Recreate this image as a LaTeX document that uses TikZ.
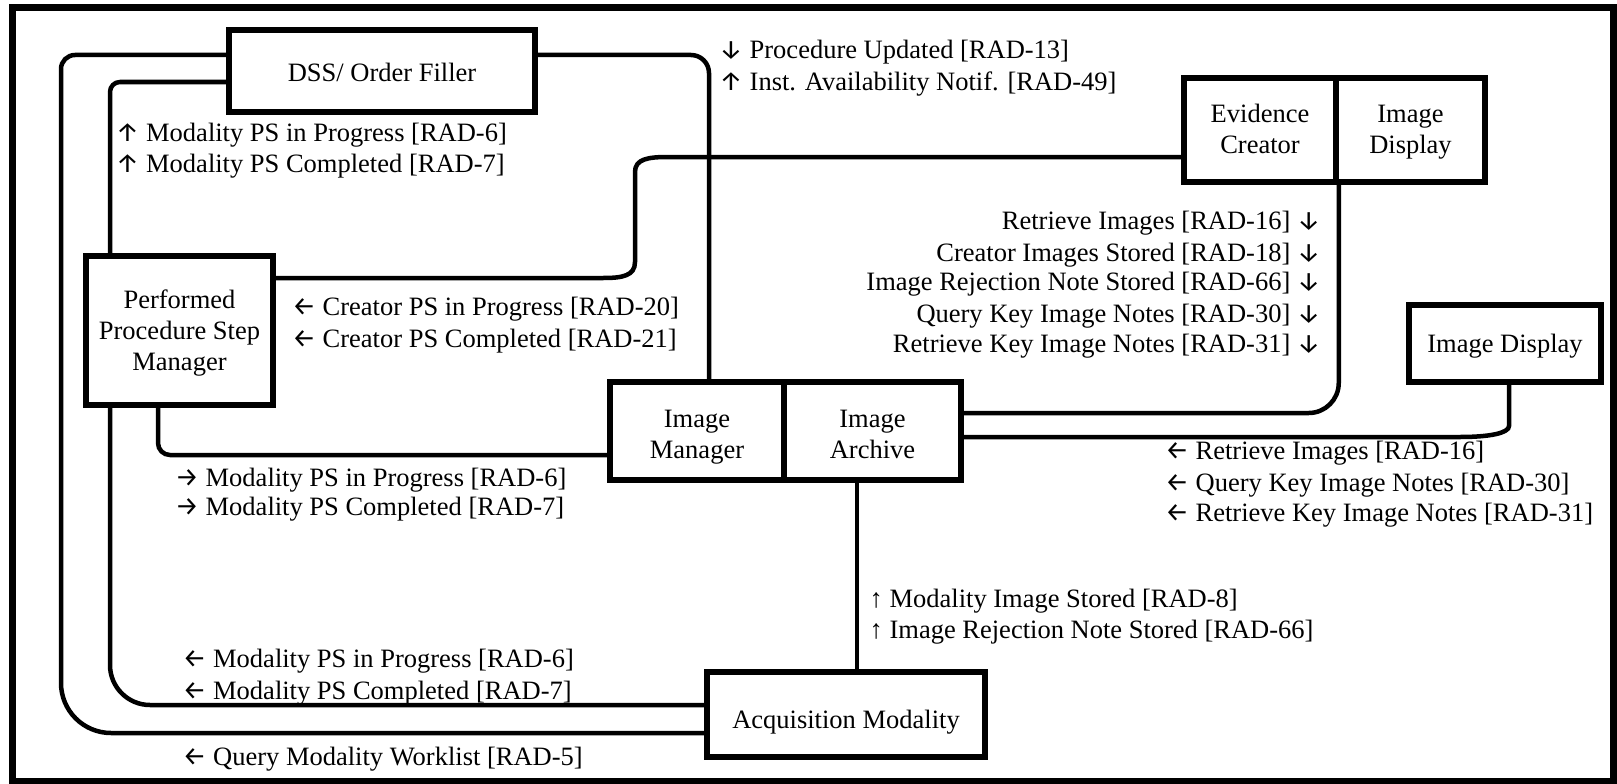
\documentclass[tikz,border=0pt]{standalone}
\usepackage{fontspec}
\setmainfont{Liberation Serif}
\newfontfamily\arrowfont{Fira Sans}
\newcommand\lblfont{\fontsize{26.5}{31}\selectfont}
\newcommand\aU{{\arrowfont ↑}}
\newcommand\aD{{\arrowfont ↓}}
\newcommand\aL{{\arrowfont ←}}
\newcommand\aR{{\arrowfont →}}
\newcommand\bt[2]{\raisebox{-#1}[\height][\depth]{\begin{tabular}{@{}c@{}}#2\end{tabular}}}
\begin{document}
\begin{tikzpicture}[x=1pt,y=-1pt,
  box/.style={draw, line width=5.5pt, inner sep=0pt, align=center, font=\lblfont},
  conn/.style={line width=4.5pt},
  lbl/.style={anchor=base west, inner sep=0pt, font=\lblfont},
  lblr/.style={anchor=base east, inner sep=0pt, font=\lblfont}]
\useasboundingbox (0,0) rectangle (1617,784);
\draw[line width=7pt] (12,8) rectangle (1613,781);
% boxes
\node[box, minimum width=306pt, minimum height=82pt] (DSS) at (382,71) {\bt{4pt}{DSS/ Order Filler}};
\node[box, minimum width=187pt, minimum height=149pt] (PPSM) at (179.5,330.5) {\bt{3pt}{Performed\\Procedure Step\\Manager}};
\node[box, minimum width=174pt, minimum height=98pt] (ImgMgr) at (697,431) {\bt{6pt}{Image\\Manager}};
\node[box, minimum width=177pt, minimum height=98pt] (ImgArch) at (872.5,431) {\bt{6pt}{Image\\Archive}};
\node[box, minimum width=152pt, minimum height=104pt] (EvC) at (1260,130) {\bt{2pt}{Evidence\\Creator}};
\node[box, minimum width=149pt, minimum height=104pt] (ImgD1) at (1410.5,130) {\bt{2pt}{Image\\Display}};
\node[box, minimum width=192pt, minimum height=77pt] (ImgD2) at (1505,343.5) {\bt{3pt}{Image Display}};
\node[box, minimum width=278pt, minimum height=85pt] (AcqMod) at (846,714.5) {\bt{8pt}{Acquisition Modality}};
% connectors
\draw[conn, rounded corners=14pt] ([yshift=16pt]DSS.west) -| (61,400) [rounded corners=50pt] |- ([yshift=-18.5pt]AcqMod.west);
\draw[conn, rounded corners=10pt] ([yshift=-11pt]DSS.west) -| (PPSM.north -| 110,0);
\draw[conn, rounded corners=40pt] (PPSM.south -| 110,0) |- ([yshift=9.5pt]AcqMod.west);
\draw[conn, rounded corners=12pt] (PPSM.south -| 158,0) |- ([yshift=-24pt]ImgMgr.west);
\draw[conn, rounded corners=18pt] ([yshift=16pt]DSS.east) -| (ImgMgr.north -| 709,0);
\draw[conn] ([yshift=52.5pt]PPSM.east) -- (603,278) .. controls (622,278) and (635,276) .. (635,262) -- (635,172) .. controls (635,159) and (648,157) .. (668,157) -- ([yshift=-27pt]EvC.west);
\draw[conn, rounded corners=30pt] (EvC.south east) |- ([yshift=18pt]ImgArch.east);
\draw[conn] ([xshift=4pt]ImgD2.south) -- (1509,426) .. controls (1509,433) and (1490,437) .. (1460,437) -- ([yshift=-6pt]ImgArch.east);
\draw[conn] (ImgArch.south -| 857,0) -- (AcqMod.north -| 857,0);
% labels
\node[lbl] (t1) at (719,59) {\aD\ Procedure Updated [RAD-13]};
\node[lbl] (t2) at (719,90) {\aU\ Inst. Availability Notif. [RAD-49]};
\node[lbl] (t3) at (115.5,141.5) {\aU\ Modality PS in Progress [RAD-6]};
\node[lbl] (t4) at (115.5,172) {\aU\ Modality PS Completed [RAD-7]};
\node[lbl] (t5) at (292,315) {\aL\ Creator PS in Progress [RAD-20]};
\node[lbl] (t6) at (292,347.5) {\aL\ Creator PS Completed [RAD-21]};
\node[lbl] (t7) at (175,486) {\aR\ Modality PS in Progress [RAD-6]};
\node[lbl] (t8) at (175,515) {\aR\ Modality PS Completed [RAD-7]};
\node[lbl] (t9) at (182.5,667) {\aL\ Modality PS in Progress [RAD-6]};
\node[lbl] (t10) at (182.5,699) {\aL\ Modality PS Completed [RAD-7]};
\node[lbl] (t11) at (182.5,765) {\aL\ Query Modality Worklist [RAD-5]};
\node[lblr] (r1) at (1321,229) {Retrieve Images [RAD-16] \aD};
\node[lblr] (r2) at (1321,261) {Creator Images Stored [RAD-18] \aD};
\node[lblr] (r3) at (1321,290) {Image Rejection Note Stored [RAD-66] \aD};
\node[lblr] (r4) at (1321,322) {Query Key Image Notes [RAD-30] \aD};
\node[lblr] (r5) at (1321,352) {Retrieve Key Image Notes [RAD-31] \aD};
\node[lbl] (d1) at (1165,459) {\aL\ Retrieve Images [RAD-16]};
\node[lbl] (d2) at (1165,491) {\aL\ Query Key Image Notes [RAD-30]};
\node[lbl] (d3) at (1165,521) {\aL\ Retrieve Key Image Notes [RAD-31]};
\node[lbl] (m1) at (869.5,607) {↑ Modality Image Stored [RAD-8]};
\node[lbl] (m2) at (869.5,638) {↑ Image Rejection Note Stored [RAD-66]};
\end{tikzpicture}
\end{document}
